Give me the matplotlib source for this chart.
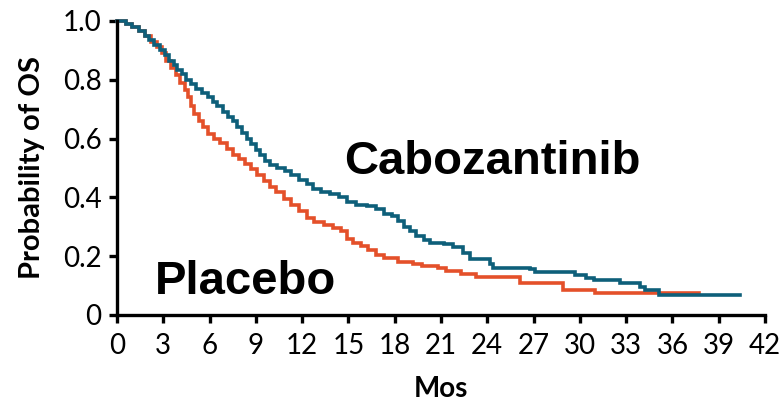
import matplotlib
matplotlib.use("Agg")
import matplotlib.pyplot as plt

# Kaplan-Meier step data (months, probability of OS)
cabo_t = [0, 0.6, 1.0, 1.4, 1.8, 2.1, 2.4, 2.8, 3.1, 3.4, 3.7, 3.9, 4.2, 4.5, 4.8,
          5.1, 5.5, 5.9, 6.2, 6.5, 6.9, 7.2, 7.5, 7.8, 8.1, 8.4, 8.7, 9.0, 9.3,
          9.6, 9.9, 10.4, 10.9, 11.3, 11.8, 12.3, 12.7, 13.2, 13.8, 14.4, 14.9,
          15.5, 16.2, 16.8, 17.3, 17.8, 18.2, 18.6, 19.0, 19.4, 19.9, 20.3, 21.2,
          21.8, 22.4, 22.9, 24.2, 24.4, 26.8, 27.1, 29.7, 30.4, 30.9, 32.6, 33.9,
          34.2, 35.1, 40.4]
cabo_s = [1.00, 0.99, 0.98, 0.965, 0.95, 0.935, 0.92, 0.90, 0.885, 0.865, 0.85,
          0.835, 0.82, 0.80, 0.785, 0.77, 0.755, 0.74, 0.725, 0.71, 0.69, 0.675,
          0.66, 0.64, 0.62, 0.60, 0.58, 0.56, 0.545, 0.525, 0.51, 0.50, 0.49,
          0.475, 0.46, 0.445, 0.43, 0.42, 0.41, 0.40, 0.385, 0.375, 0.37, 0.36,
          0.345, 0.335, 0.32, 0.30, 0.285, 0.27, 0.255, 0.245, 0.24, 0.23, 0.21,
          0.19, 0.175, 0.16, 0.155, 0.145, 0.135, 0.125, 0.12, 0.11, 0.095, 0.085,
          0.068, 0.068]

plac_t = [0, 0.6, 1.0, 1.4, 1.8, 2.2, 2.6, 2.9, 3.2, 3.5, 3.8, 4.1, 4.4, 4.6, 4.8,
          5.0, 5.3, 5.6, 5.9, 6.3, 6.7, 7.1, 7.5, 7.9, 8.3, 8.7, 9.1, 9.5, 9.9,
          10.3, 10.8, 11.3, 11.8, 12.3, 12.8, 13.4, 14.0, 14.5, 14.9, 15.3, 15.8,
          16.3, 16.8, 17.3, 18.2, 19.2, 19.8, 20.8, 21.3, 22.3, 23.3, 26.1, 28.9,
          31.0, 37.7]
plac_s = [1.00, 0.99, 0.98, 0.965, 0.95, 0.93, 0.91, 0.89, 0.865, 0.84, 0.815,
          0.79, 0.765, 0.74, 0.71, 0.685, 0.66, 0.64, 0.615, 0.60, 0.585, 0.565,
          0.545, 0.53, 0.515, 0.495, 0.475, 0.455, 0.435, 0.42, 0.395, 0.375,
          0.355, 0.33, 0.315, 0.305, 0.295, 0.285, 0.26, 0.245, 0.235, 0.22,
          0.205, 0.195, 0.18, 0.175, 0.165, 0.16, 0.15, 0.14, 0.13, 0.11, 0.085,
          0.075, 0.075]

x_ticks = [0, 3, 6, 9, 12, 15, 18, 21, 24, 27, 30, 33, 36, 39, 42]
y_ticks = [0, 0.2, 0.4, 0.6, 0.8, 1.0]
y_tick_labels = ["0", "0.2", "0.4", "0.6", "0.8", "1.0"]

TEAL = "#0e5f7a"
ORANGE = "#e4502a"
tick_font = ["Lato", "DejaVu Sans"]

fig = plt.figure(figsize=(7.81, 4.03), dpi=100)
ax = fig.add_axes([0.1498, 0.2184, 0.8297, 0.7295])

ax.plot(plac_t, plac_s, drawstyle="steps-post", color=ORANGE, lw=2.6,
        clip_on=False, solid_joinstyle="miter")
ax.plot(cabo_t, cabo_s, drawstyle="steps-post", color=TEAL, lw=2.6,
        clip_on=False, solid_joinstyle="miter")

ax.set_xlim(0, 42)
ax.set_ylim(0, 1.0)
ax.set_xticks(x_ticks)
ax.set_xticklabels([str(v) for v in x_ticks], family=tick_font, fontsize=20)
ax.set_yticks(y_ticks)
ax.set_yticklabels(y_tick_labels, family=tick_font, fontsize=20)

for s in ["top", "right"]:
    ax.spines[s].set_visible(False)
for s in ["left", "bottom"]:
    ax.spines[s].set_linewidth(2.4)
    ax.spines[s].set_color("black")
ax.tick_params(direction="out", length=6, width=2.4, color="black")
ax.tick_params(axis="x", pad=7)
ax.tick_params(axis="y", pad=5)

ax.set_xlabel("Mos", family=tick_font, fontsize=20, fontweight="bold", labelpad=12)
ax.set_ylabel("Probability of OS", family=tick_font, fontsize=21,
              fontweight="bold", labelpad=13)

ax.text(14.75, 0.48, "Cabozantinib", family="Liberation Sans", fontsize=34,
        fontweight="bold", color="black", va="baseline", ha="left")
ax.text(2.45, 0.07, "Placebo", family="Liberation Sans", fontsize=34,
        fontweight="bold", color="black", va="baseline", ha="left")

fig.savefig("out.png", dpi=100)
